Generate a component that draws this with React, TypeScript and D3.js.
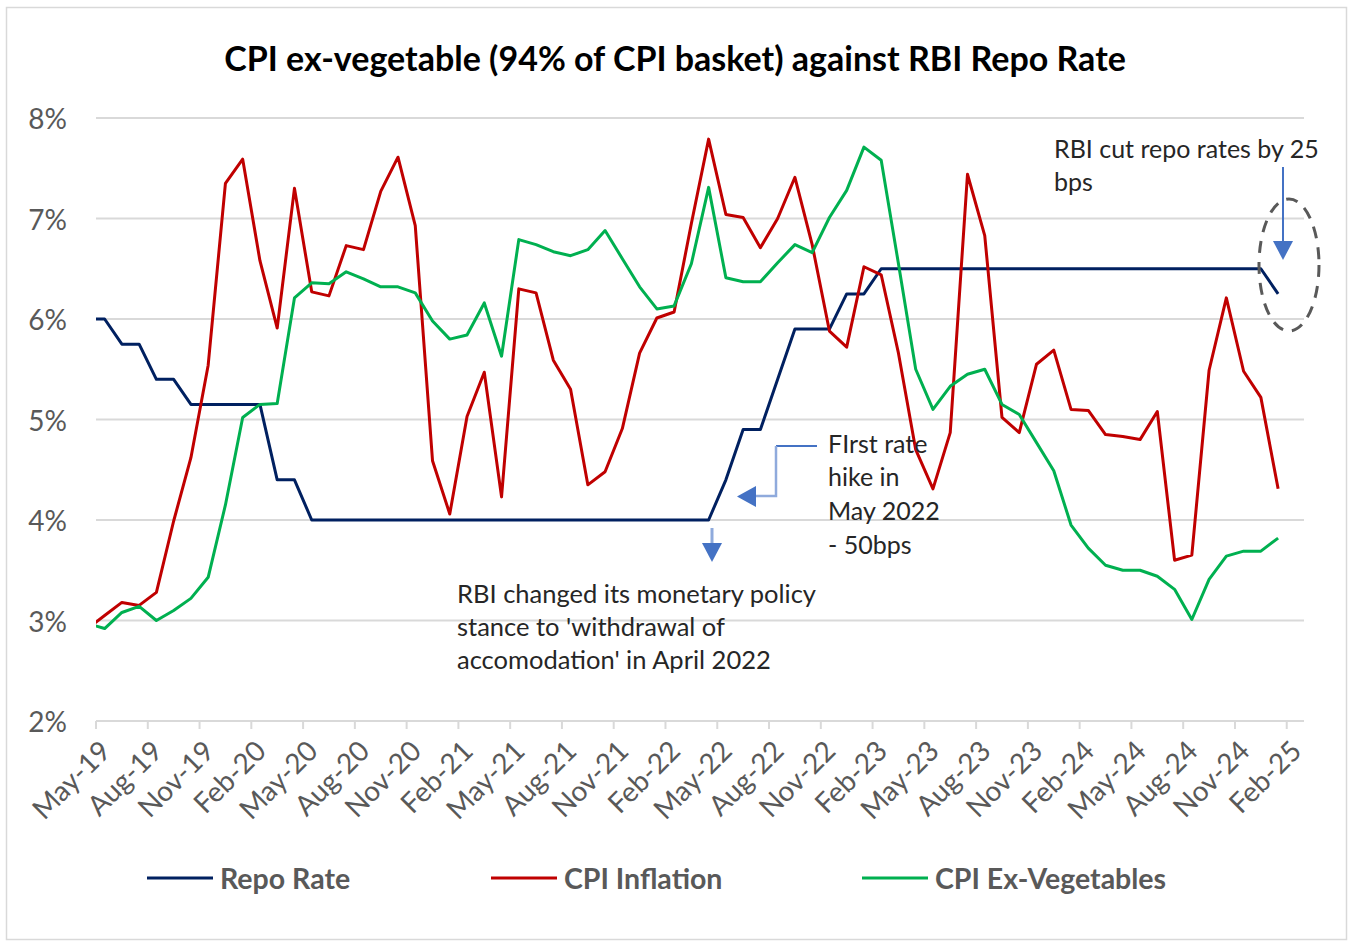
import * as d3 from 'd3';

// months of the plotted points (first one falls just left of the axis and is clipped)
const dataMonths = [
  'Apr-19', 'May-19', 'Jun-19', 'Jul-19', 'Aug-19', 'Sep-19', 'Oct-19', 'Nov-19', 'Dec-19',
  'Jan-20', 'Feb-20', 'Mar-20', 'Apr-20', 'May-20', 'Jun-20', 'Jul-20', 'Aug-20', 'Sep-20', 'Oct-20', 'Nov-20', 'Dec-20',
  'Jan-21', 'Feb-21', 'Mar-21', 'Apr-21', 'May-21', 'Jun-21', 'Jul-21', 'Aug-21', 'Sep-21', 'Oct-21', 'Nov-21', 'Dec-21',
  'Jan-22', 'Feb-22', 'Mar-22', 'Apr-22', 'May-22', 'Jun-22', 'Jul-22', 'Aug-22', 'Sep-22', 'Oct-22', 'Nov-22', 'Dec-22',
  'Jan-23', 'Feb-23', 'Mar-23', 'Apr-23', 'May-23', 'Jun-23', 'Jul-23', 'Aug-23', 'Sep-23', 'Oct-23', 'Nov-23', 'Dec-23',
  'Jan-24', 'Feb-24', 'Mar-24', 'Apr-24', 'May-24', 'Jun-24', 'Jul-24', 'Aug-24', 'Sep-24', 'Oct-24', 'Nov-24', 'Dec-24',
  'Jan-25',
];

// category slots shown on the axis
const axisMonths = [
  'May-19', 'Jun-19', 'Jul-19', 'Aug-19', 'Sep-19', 'Oct-19', 'Nov-19', 'Dec-19',
  'Jan-20', 'Feb-20', 'Mar-20', 'Apr-20', 'May-20', 'Jun-20', 'Jul-20', 'Aug-20', 'Sep-20', 'Oct-20', 'Nov-20', 'Dec-20',
  'Jan-21', 'Feb-21', 'Mar-21', 'Apr-21', 'May-21', 'Jun-21', 'Jul-21', 'Aug-21', 'Sep-21', 'Oct-21', 'Nov-21', 'Dec-21',
  'Jan-22', 'Feb-22', 'Mar-22', 'Apr-22', 'May-22', 'Jun-22', 'Jul-22', 'Aug-22', 'Sep-22', 'Oct-22', 'Nov-22', 'Dec-22',
  'Jan-23', 'Feb-23', 'Mar-23', 'Apr-23', 'May-23', 'Jun-23', 'Jul-23', 'Aug-23', 'Sep-23', 'Oct-23', 'Nov-23', 'Dec-23',
  'Jan-24', 'Feb-24', 'Mar-24', 'Apr-24', 'May-24', 'Jun-24', 'Jul-24', 'Aug-24', 'Sep-24', 'Oct-24', 'Nov-24', 'Dec-24',
  'Jan-25', 'Feb-25',
];

const tickLabels = [
  'May-19', 'Aug-19', 'Nov-19', 'Feb-20', 'May-20', 'Aug-20', 'Nov-20', 'Feb-21', 'May-21', 'Aug-21', 'Nov-21',
  'Feb-22', 'May-22', 'Aug-22', 'Nov-22', 'Feb-23', 'May-23', 'Aug-23', 'Nov-23', 'Feb-24', 'May-24', 'Aug-24',
  'Nov-24', 'Feb-25',
];

const yTicks = [2, 3, 4, 5, 6, 7, 8];

const repoRate = [
  6.0, 6.0, 5.75, 5.75, 5.4, 5.4, 5.15, 5.15, 5.15,
  5.15, 5.15, 4.4, 4.4, 4.0, 4.0, 4.0, 4.0, 4.0, 4.0, 4.0, 4.0,
  4.0, 4.0, 4.0, 4.0, 4.0, 4.0, 4.0, 4.0, 4.0, 4.0, 4.0, 4.0,
  4.0, 4.0, 4.0, 4.0, 4.4, 4.9, 4.9, 5.4, 5.9, 5.9, 5.9, 6.25,
  6.25, 6.5, 6.5, 6.5, 6.5, 6.5, 6.5, 6.5, 6.5, 6.5, 6.5, 6.5,
  6.5, 6.5, 6.5, 6.5, 6.5, 6.5, 6.5, 6.5, 6.5, 6.5, 6.5, 6.5,
  6.25,
];

const cpiInflation = [
  2.92, 3.05, 3.18, 3.15, 3.28, 3.99, 4.62, 5.54, 7.35,
  7.59, 6.58, 5.91, 7.3, 6.27, 6.23, 6.73, 6.69, 7.27, 7.61, 6.93, 4.59,
  4.06, 5.03, 5.47, 4.23, 6.3, 6.26, 5.59, 5.3, 4.35, 4.48, 4.91, 5.66,
  6.01, 6.07, 6.95, 7.79, 7.04, 7.01, 6.71, 7.0, 7.41, 6.74, 5.88, 5.72,
  6.52, 6.44, 5.66, 4.7, 4.31, 4.87, 7.44, 6.83, 5.02, 4.87, 5.55, 5.69,
  5.1, 5.09, 4.85, 4.83, 4.8, 5.08, 3.6, 3.65, 5.49, 6.21, 5.48, 5.22,
  4.31,
];

const cpiExVeg = [
  2.97, 2.92, 3.08, 3.14, 3.0, 3.1, 3.22, 3.43, 4.15,
  5.02, 5.15, 5.16, 6.21, 6.36, 6.35, 6.47, 6.4, 6.32, 6.32, 6.26, 5.98,
  5.8, 5.84, 6.16, 5.63, 6.79, 6.74, 6.67, 6.63, 6.69, 6.88, 6.6, 6.32,
  6.1, 6.13, 6.55, 7.31, 6.41, 6.37, 6.37, 6.56, 6.74, 6.66, 7.01, 7.28,
  7.71, 7.58, 6.55, 5.5, 5.1, 5.33, 5.45, 5.5, 5.15, 5.05, 4.77, 4.49,
  3.95, 3.72, 3.55, 3.5, 3.5, 3.44, 3.31, 3.01, 3.41, 3.64, 3.69, 3.69,
  3.82,
];

const series = [
  { name: 'Repo Rate', values: repoRate, color: '#002060' },
  { name: 'CPI Inflation', values: cpiInflation, color: '#C00000' },
  { name: 'CPI Ex-Vegetables', values: cpiExVeg, color: '#00B050' },
];

const W = 1354;
const H = 948;
const left = 96;
const right = 1304;
const top = 118;
const bottom = 721;
const FONT = 'Lato, "Open Sans", sans-serif';
const GREY = '#595959';

export default function App() {
  // slot index along the axis (May-19 = 0), points at slot centres
  const x = d3.scaleLinear().domain([-0.5, axisMonths.length - 0.5]).range([left, right]);
  const y = d3.scaleLinear().domain([2, 8]).range([bottom, top]);
  const slot = (m: string) => {
    const i = axisMonths.indexOf(m);
    return i >= 0 ? i : axisMonths.indexOf('May-19') - 1; // Apr-19 sits one slot before the axis
  };

  const line = d3
    .line<number>()
    .x((_, i) => x(slot(dataMonths[i])))
    .y((d) => y(d));

  const legendItems = [
    { ...series[0], x0: 147 },
    { ...series[1], x0: 491 },
    { ...series[2], x0: 862 },
  ];

  return (
    <svg
      width={W}
      height={H}
      style={{ position: 'absolute', left: 0, top: 0, background: '#fff' }}
      fontFamily={FONT}
    >
      <defs>
        <clipPath id="plot">
          <rect x={left} y={0} width={right - left} height={H} />
        </clipPath>
      </defs>
      <rect x={6.5} y={7.5} width={1340} height={932} fill="#fff" stroke="#d9d9d9" strokeWidth={1.5} />

      <text x={675} y={57} textAnchor="middle" dominantBaseline="central" fontSize={34} fontWeight={700} fill="#000">
        CPI ex-vegetable (94% of CPI basket) against RBI Repo Rate
      </text>

      {/* gridlines and y labels */}
      {yTicks.map((t) => (
        <g key={t}>
          <line x1={left} x2={right} y1={y(t)} y2={y(t)} stroke="#d9d9d9" strokeWidth={2} />
          <text x={67} y={y(t)} textAnchor="end" dominantBaseline="central" fontSize={28} fill={GREY}>
            {t}%
          </text>
        </g>
      ))}

      {/* x ticks and labels */}
      {tickLabels.map((m) => {
        const i = axisMonths.indexOf(m);
        const xb = x(i - 0.5);
        const xc = x(i);
        return (
          <g key={m}>
            <line x1={xb} x2={xb} y1={bottom} y2={bottom + 8} stroke="#d9d9d9" strokeWidth={2} />
            <text
              transform={`translate(${xc},${bottom + 24}) rotate(-45)`}
              textAnchor="end"
              dominantBaseline="central"
              fontSize={28}
              fill={GREY}
            >
              {m}
            </text>
          </g>
        );
      })}

      {/* series */}
      <g clipPath="url(#plot)">
        {series.map((s) => (
          <path key={s.name} d={line(s.values) || ''} fill="none" stroke={s.color} strokeWidth={3} strokeLinejoin="round" />
        ))}
      </g>

      {/* annotation: rate cut */}
      <text fontSize={25} fill="#262626">
        <tspan x={1054} y={148} dominantBaseline="central">RBI cut repo rates by 25</tspan>
        <tspan x={1054} y={181} dominantBaseline="central">bps</tspan>
      </text>
      <line x1={1283} x2={1283} y1={167} y2={244} stroke="#4472C4" strokeWidth={2} />
      <path d="M1273,241 L1293,241 L1283,260 Z" fill="#4472C4" />
      <ellipse cx={1289} cy={265} rx={30} ry={66} fill="none" stroke={GREY} strokeWidth={3} strokeDasharray="12 9" />

      {/* annotation: first hike */}
      <text fontSize={25} fill="#262626">
        <tspan x={828} y={443} dominantBaseline="central">FIrst rate</tspan>
        <tspan x={828} y={476} dominantBaseline="central">hike in</tspan>
        <tspan x={828} y={510} dominantBaseline="central">May 2022</tspan>
        <tspan x={828} y={544} dominantBaseline="central">- 50bps</tspan>
      </text>
      <path d="M817,446 L776,446" fill="none" stroke="#4472C4" strokeWidth={2} />
      <path d="M776,446 L776,496 L754,496" fill="none" stroke="#8FAADC" strokeWidth={2.5} />
      <path d="M756,486 L756,507 L737,496.5 Z" fill="#4472C4" />

      {/* annotation: stance change */}
      <line x1={712} x2={712} y1={528} y2={545} stroke="#8FAADC" strokeWidth={3} />
      <path d="M702,543 L722,543 L712,562 Z" fill="#4472C4" />
      <text fontSize={25.5} fill="#262626">
        <tspan x={457} y={593} dominantBaseline="central">RBI changed its monetary policy</tspan>
        <tspan x={457} y={626} dominantBaseline="central">stance to 'withdrawal of</tspan>
        <tspan x={457} y={659} dominantBaseline="central">accomodation' in April 2022</tspan>
      </text>

      {/* legend */}
      {legendItems.map((s) => (
        <g key={s.name}>
          <line x1={s.x0} x2={s.x0 + 66} y1={878} y2={878} stroke={s.color} strokeWidth={3} />
          <text x={s.x0 + 73} y={878} dominantBaseline="central" fontSize={28.5} fontWeight={700} fill={GREY}>
            {s.name}
          </text>
        </g>
      ))}
    </svg>
  );
}
